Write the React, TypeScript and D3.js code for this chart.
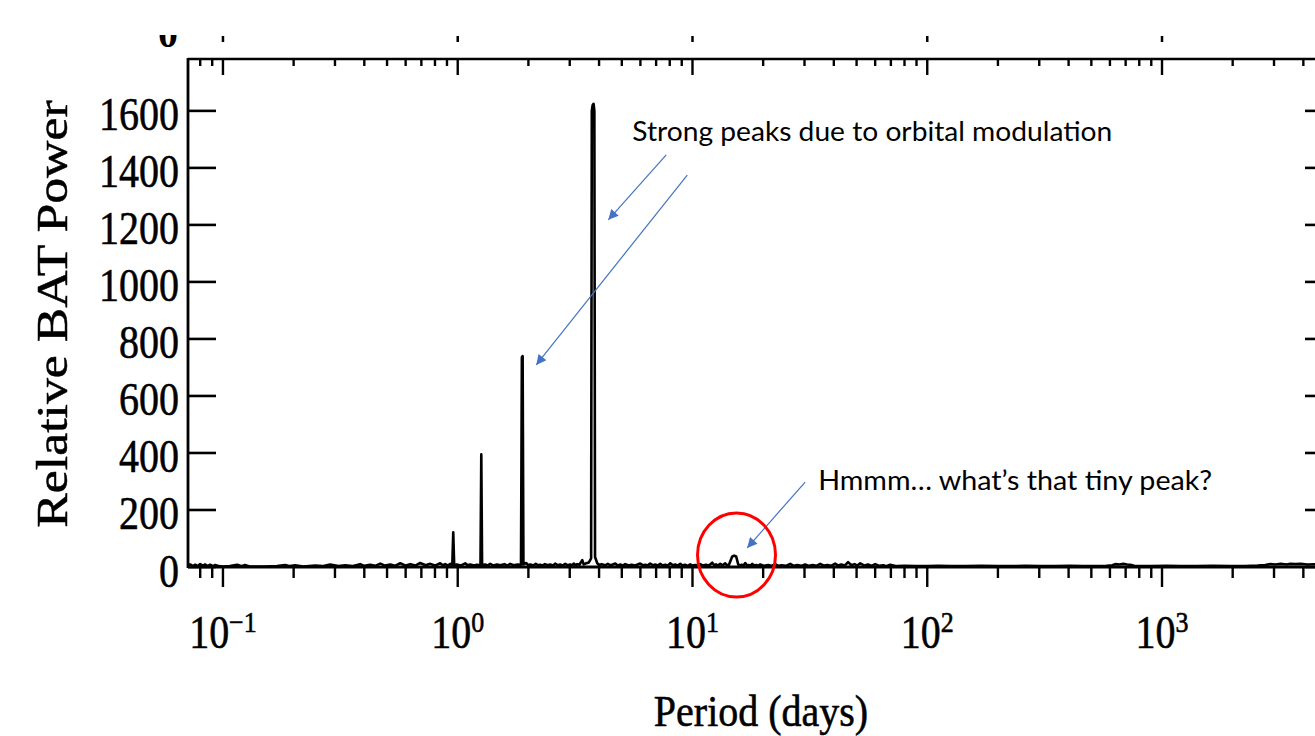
import React from 'react';
import * as d3 from 'd3';

// Periodogram: [period (days), relative BAT power]
const periodogram: [number, number][] = [
  [0.0709, 6], [0.0725, 9], [0.0745, 3], [0.0762, 8], [0.078, 3], [0.08, 10], [0.082, 4], [0.084, 9],
  [0.086, 3], [0.0882, 8], [0.0905, 3], [0.0927, 7], [0.096, 3], [0.1, 2], [0.107, 3], [0.115, 8],
  [0.12, 3], [0.124, 7], [0.13, 2], [0.15, 2], [0.17, 3], [0.184, 7], [0.193, 3], [0.203, 6],
  [0.22, 2], [0.247, 5], [0.265, 3], [0.286, 9], [0.31, 3], [0.332, 6], [0.355, 3], [0.384, 10],
  [0.4, 4], [0.424, 8], [0.445, 4], [0.468, 12], [0.49, 5], [0.516, 9], [0.54, 4], [0.569, 13],
  [0.6, 5], [0.628, 10], [0.66, 5], [0.692, 14], [0.73, 6], [0.764, 11], [0.8, 5], [0.842, 13],
  [0.865, 6], [0.885, 10], [0.91, 5], [0.93, 11], [0.948, 5], [0.957, 122], [0.966, 5], [0.99, 9],
  [1.03, 5], [1.076, 13], [1.1, 6], [1.13, 9], [1.17, 5], [1.21, 8], [1.25, 5], [1.26, 395],
  [1.27, 6], [1.31, 9], [1.34, 5], [1.375, 11], [1.42, 5], [1.47, 9], [1.517, 6], [1.58, 10],
  [1.63, 5], [1.673, 11], [1.73, 6], [1.8, 9], [1.86, 7], [1.876, 735], [1.89, 740], [1.905, 9], [1.96, 14],
  [2.0, 6], [2.036, 9], [2.1, 5], [2.15, 11], [2.2, 6], [2.245, 8], [2.3, 5], [2.35, 10],
  [2.42, 6], [2.477, 9], [2.55, 5], [2.6, 12], [2.67, 6], [2.733, 9], [2.8, 5], [2.87, 11],
  [2.94, 6], [3.015, 9], [3.07, 5], [3.12, 12], [3.18, 6], [3.229, 10], [3.3, 8], [3.392, 24],
  [3.44, 9], [3.5, 12], [3.62, 16], [3.7, 30], [3.725, 1600], [3.755, 1620], [3.79, 1625], [3.82, 1600],
  [3.845, 35], [3.93, 13], [4.0, 7], [4.1, 10], [4.25, 6], [4.36, 11], [4.47, 6], [4.58, 9], [4.69, 12],
  [4.8, 5], [4.93, 9], [5.05, 5], [5.17, 10], [5.35, 5], [5.5, 8], [5.7, 5], [5.99, 12],
  [6.15, 6], [6.3, 8], [6.45, 5], [6.6, 12], [6.8, 6], [6.95, 9], [7.1, 5], [7.29, 11],
  [7.45, 5], [7.65, 8], [7.85, 5], [8.04, 13], [8.25, 6], [8.45, 9], [8.65, 5], [8.87, 11],
  [9.05, 5], [9.3, 8], [9.55, 4], [9.78, 9], [10.0, 5], [10.3, 7], [10.55, 4], [10.79, 10],
  [11.1, 5], [11.4, 8], [11.75, 5], [12.14, 15], [12.4, 6], [12.6, 9], [12.85, 5], [13.13, 11],
  [13.45, 6], [13.78, 13], [14.0, 6], [14.3, 8], [14.75, 36], [15.05, 40], [15.35, 37], [15.66, 9],
  [15.95, 5], [16.2, 8], [16.5, 5], [16.78, 14], [17.1, 5], [17.4, 7], [17.65, 4], [17.97, 11],
  [18.3, 5], [18.7, 7], [19.05, 4], [19.44, 9], [20.2, 4], [21.0, 7], [21.7, 4], [22.5, 10],
  [23.2, 4], [24.0, 6], [25.0, 4], [26.1, 11], [27.0, 4], [28.0, 7], [29.0, 4], [30.2, 9],
  [31.3, 4], [32.5, 7], [33.7, 4], [35.0, 11], [36.3, 5], [37.6, 7], [39.0, 4], [40.5, 12],
  [41.8, 5], [43.0, 9], [44.5, 5], [46.0, 17], [47.5, 6], [49.0, 10], [50.4, 5], [51.8, 13],
  [54.0, 5], [56.0, 9], [58.0, 4], [60.0, 10], [62.5, 4], [65.0, 6], [67.0, 3], [69.5, 8],
  [74.0, 3], [80.0, 4], [90.0, 3], [100.0, 3], [112.0, 4], [125.0, 3], [145.0, 3], [170.0, 4],
  [200.0, 3], [226.0, 3], [260.0, 4], [300.0, 3], [350.0, 3], [406.0, 4], [460.0, 3], [520.0, 3],
  [580.0, 4], [615.0, 6], [632.0, 10], [660.0, 9], [684.0, 11], [710.0, 9], [733.0, 8], [760.0, 4],
  [800.0, 3], [900.0, 3], [1050.0, 4], [1197.0, 3], [1400.0, 3], [1650.0, 4], [1954.0, 3], [2250.0, 3],
  [2550.0, 5], [2750.0, 7], [2893.0, 10], [3050.0, 9], [3200.0, 11], [3400.0, 9], [3518.0, 11], [3700.0, 10],
  [3900.0, 11], [4150.0, 9], [4538.0, 10], [4900.0, 9], [5350.0, 10],
];

const xDomain: [number, number] = [0.07097, 5350];
const yDomain: [number, number] = [0, 1782];
const yTickValues = [0, 200, 400, 600, 800, 1000, 1200, 1400, 1600];
const xDecadeExponents = [-1, 0, 1, 2, 3];
const yTitle = 'Relative BAT Power';
const xTitle = 'Period (days)';

// Annotations (in data coordinates: period, power)
const annotationTexts = ['Strong peaks due to orbital modulation', 'Hmmm\u2026 what\u2019s that tiny peak?'];
const annotationTextAt: [number, number][] = [[5.54, 1495], [34.3, 270]];
const annotationTextWidths = [480, 394];
const arrowStarts: [number, number][] = [[7.73, 1446], [9.5, 1375], [30.2, 298]];
const arrowTips: [number, number][] = [[4.38, 1218], [2.16, 709], [17.1, 67]];
const circleCenter: [number, number] = [15.4, 42];

const W = 1315;
const H = 736;
const M = { left: 188, right: 1333, top: 59, bottom: 567 };
const SERIF = '"Liberation Serif", "Times New Roman", serif';
const SANS = 'Lato, "Open Sans", sans-serif';
const ARROW = '#4472C4';

export default function App() {
  const x = d3.scaleLog().domain(xDomain).range([M.left, M.right]);
  const y = d3.scaleLinear().domain(yDomain).range([M.bottom, M.top]);

  const line = d3
    .line<[number, number]>()
    .x((d) => x(d[0]))
    .y((d) => y(d[1]));

  const allTicks = x.ticks(20).filter((v) => v >= xDomain[0] && v <= xDomain[1]);
  const isMajor = (v: number) => Math.abs(Math.log10(v) - Math.round(Math.log10(v))) < 1e-6;

  const serifText = { fontFamily: SERIF, stroke: '#000', strokeWidth: 0.5 };

  return (
    <svg
      width={W}
      height={H}
      style={{ position: 'absolute', left: 0, top: 0, background: '#fff' }}
    >
      <defs>
        <marker
          id="arrowHead"
          viewBox="0 0 10 10"
          refX={10}
          refY={5}
          markerUnits="userSpaceOnUse"
          markerWidth={12}
          markerHeight={10}
          orient="auto"
        >
          <path d="M0,0 L10,5 L0,10 z" fill={ARROW} />
        </marker>
        <clipPath id="topClip">
          <rect x={0} y={35} width={W} height={30} />
        </clipPath>
      </defs>

      {/* remnants of the panel above */}
      <g clipPath="url(#topClip)">
        <text x={168} y={47} fontFamily={SERIF} fontSize={40} fontWeight="bold" textAnchor="middle">0</text>
        {xDecadeExponents.map((e) => (
          <line key={e} x1={x(Math.pow(10, e))} x2={x(Math.pow(10, e))} y1={36} y2={42} stroke="#000" strokeWidth={2.5} />
        ))}
      </g>

      {/* data */}
      <path d={line(periodogram) || ''} fill="none" stroke="#000" strokeWidth={2.6} strokeLinejoin="round" />

      {/* frame */}
      <line x1={M.left} x2={M.right} y1={M.top} y2={M.top} stroke="#000" strokeWidth={2.6} />
      <line x1={M.left} x2={M.right} y1={M.bottom} y2={M.bottom} stroke="#000" strokeWidth={3} />
      <line x1={M.left} x2={M.left} y1={M.top - 1} y2={M.bottom + 1} stroke="#000" strokeWidth={2.8} />
      <line x1={M.right} x2={M.right} y1={M.top - 1} y2={M.bottom + 1} stroke="#000" strokeWidth={2.8} />

      {/* x ticks */}
      {allTicks.map((v, i) => {
        const major = isMajor(v);
        const px = x(v);
        return (
          <g key={i}>
            <line x1={px} x2={px} y1={M.bottom} y2={M.bottom + (major ? 20 : 11)} stroke="#000" strokeWidth={2.4} />
            <line x1={px} x2={px} y1={M.top} y2={M.top + (major ? 16 : 7)} stroke="#000" strokeWidth={2.4} />
          </g>
        );
      })}

      {/* y ticks */}
      {yTickValues.map((v) => (
        <g key={v}>
          <line x1={M.left} x2={M.left + 28} y1={y(v)} y2={y(v)} stroke="#000" strokeWidth={2.6} />
          <line x1={M.right - 28} x2={M.right} y1={y(v)} y2={y(v)} stroke="#000" strokeWidth={2.6} />
          <g transform={`translate(179, ${y(v) + 19.5}) scale(1, 1.15)`}>
            <text x={0} y={0} {...serifText} fontSize={40} textAnchor="end">{v}</text>
          </g>
        </g>
      ))}

      {/* x tick labels */}
      {xDecadeExponents.map((e) => (
        <g key={e} transform={`translate(${x(Math.pow(10, e))}, 648) scale(1, 1.15)`}>
          <text x={0} y={0} {...serifText} fontSize={40} textAnchor="middle">
            10
            <tspan dy={-14} fontSize={26}>{e < 0 ? '\u2212' + Math.abs(e) : String(e)}</tspan>
          </text>
        </g>
      ))}

      {/* axis titles */}
      <g transform={`translate(761, 726) scale(1, 1.1)`}>
        <text {...serifText} fontSize={40} textAnchor="middle">{xTitle}</text>
      </g>
      <g transform={`translate(67, 314) rotate(-90) scale(1.15, 1)`}>
        <text {...serifText} fontSize={45} textAnchor="middle">{yTitle}</text>
      </g>

      {/* annotations */}
      {annotationTexts.map((t, i) => (
        <text
          key={t}
          x={x(annotationTextAt[i][0])}
          y={y(annotationTextAt[i][1])}
          fontFamily={SANS}
          fontSize={27}
          textLength={annotationTextWidths[i]}
          lengthAdjust="spacingAndGlyphs"
          fill="#000"
        >
          {t}
        </text>
      ))}
      {arrowStarts.map((s, i) => (
        <line
          key={i}
          x1={x(s[0])}
          y1={y(s[1])}
          x2={x(arrowTips[i][0])}
          y2={y(arrowTips[i][1])}
          stroke={ARROW}
          strokeWidth={1.2}
          markerEnd="url(#arrowHead)"
        />
      ))}
      <ellipse
        cx={x(circleCenter[0])}
        cy={y(circleCenter[1])}
        rx={39}
        ry={42}
        fill="none"
        stroke="#FF0000"
        strokeWidth={3}
      />
    </svg>
  );
}
